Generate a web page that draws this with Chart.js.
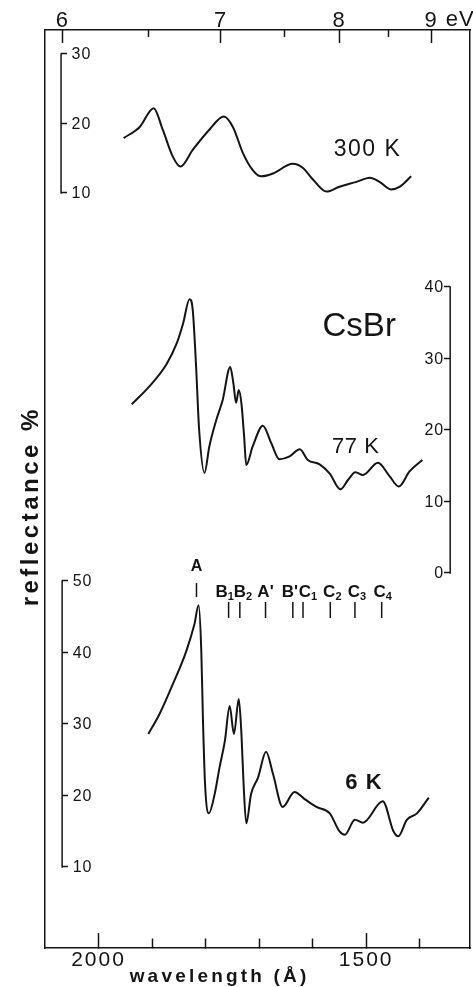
<!DOCTYPE html>
<html>
<head>
<meta charset="utf-8">
<title>CsBr reflectance</title>
<script src="https://cdn.jsdelivr.net/npm/chart.js@4.4.1/dist/chart.umd.min.js"></script>
<style>
  html, body { margin: 0; padding: 0; background: #fff; }
</style>
</head>
<body>
<canvas id="chart" width="473" height="987"></canvas>
<script>
// wavelength in Angstrom, reflectance in %
var lam300 = [1953, 1923, 1897, 1880, 1861, 1847, 1824, 1793, 1766, 1749, 1730, 1712, 1696, 1674, 1637, 1618, 1599, 1574, 1550, 1518, 1493, 1475, 1453, 1437, 1416];
var refl300 = [17.9, 19.5, 22.2, 19.1, 15.2, 13.8, 16.2, 19.1, 21.0, 19.5, 15.7, 13.3, 12.4, 12.8, 14.2, 13.6, 11.9, 10.2, 10.9, 11.6, 12.2, 11.6, 10.5, 10.9, 12.4];

var lam77 = [1938, 1905, 1873, 1854, 1842, 1830, 1824, 1818, 1812, 1802, 1793, 1780, 1768, 1754, 1748, 1743, 1738, 1733, 1728, 1724, 1712, 1693, 1677, 1662, 1643, 1624, 1609, 1587, 1568, 1548, 1534, 1520, 1506, 1478, 1456, 1439, 1419, 1395];
var refl77 = [23.6, 26.1, 29.2, 32.1, 34.9, 38.3, 36.8, 29.3, 20.0, 14.0, 17.7, 21.4, 24.2, 28.8, 26.5, 23.8, 25.6, 23.7, 19.1, 15.1, 17.7, 20.6, 18.1, 15.9, 16.3, 17.3, 15.8, 15.2, 13.9, 11.7, 13.0, 14.1, 13.7, 15.4, 13.5, 12.1, 14.2, 15.8];

var lam6 = [1907, 1886, 1861, 1836, 1821, 1813, 1808, 1805, 1801, 1794, 1783, 1774, 1764, 1755, 1747, 1738, 1733, 1729, 1724, 1715, 1702, 1687, 1674, 1656, 1634, 1615, 1593, 1568, 1550, 1540, 1521, 1506, 1469, 1449, 1440, 1424, 1405, 1383];
var refl6 = [28.6, 31.4, 35.6, 40.2, 43.9, 46.6, 40.2, 30.9, 21.6, 17.5, 20.2, 23.9, 27.6, 32.5, 28.6, 33.5, 28.6, 21.6, 16.1, 20.2, 22.5, 26.1, 23.0, 18.4, 20.5, 19.5, 18.4, 17.5, 15.0, 14.5, 16.6, 16.2, 19.2, 15.0, 14.3, 16.6, 17.5, 19.7];

// axes
var lamTicks = [2000, 1900, 1800, 1700, 1600, 1500, 1400];
var lamLabels = { 2000: '2000', 1500: '1500' };
var eVTicks = [6, 6.5, 7, 7.5, 8, 8.5, 9];
var ticks300 = [10, 20, 30];
var ticks77 = [0, 10, 20, 30, 40];
var ticks6 = [10, 20, 30, 40, 50];

// exciton marks above the 6 K curve
var markNames = ['A', 'B_1', 'B_2', "A'", "B'", 'C_1', 'C_2', 'C_3', 'C_4'];
var markLam = [1817, 1757, 1736, 1688, 1637, 1618, 1567, 1521, 1471];

var ink = '#141414';
var hc = 12398.4; // eV * Angstrom
var font = '"Liberation Sans", Arial, sans-serif';

function fixedTicks(list) {
    return function (scale) {
        scale.ticks = list.map(function (v) { return { value: v }; });
    };
}

function fixedHeight(h) {
    return function (scale) { scale.height = h; };
}

function toPoints(xs, ys) {
    return xs.map(function (x, i) { return { x: x, y: ys[i] }; });
}

function curve(label, xs, ys, axis) {
    return {
        label: label,
        data: toPoints(xs, ys),
        yAxisID: axis,
        borderColor: ink,
        borderWidth: 2,
        pointRadius: 0,
        fill: false,
        cubicInterpolationMode: 'monotone'
    };
}

function panelAxis(posLam, min, max, list, tickLen) {
    return {
        type: 'linear',
        position: { x: posLam },
        min: min,
        max: max,
        afterBuildTicks: fixedTicks(list),
        border: { display: false },
        grid: { drawOnChartArea: false, tickLength: tickLen, tickWidth: 1.5, tickColor: ink },
        ticks: { display: false }
    };
}

function frameAxis(pos) {
    return {
        type: 'linear',
        position: pos,
        min: 0,
        max: 1,
        border: { display: true, color: ink, width: 1.5 },
        grid: { drawOnChartArea: false, drawTicks: false },
        ticks: { display: false }
    };
}

// a bit of spacing like the letraset numbers
var spacing = {
    id: 'spacing',
    beforeDraw: function (chart) { chart.ctx.letterSpacing = '2px'; }
};

// panel axes: line between end ticks, labels inside the frame
var labelSide = { y300: 10.5, y77: -7, y6: 10.5 };

var panelAxes = {
    id: 'panelAxes',
    afterDraw: function (chart) {
        var ctx = chart.ctx, xs = chart.scales.x;
        Object.keys(labelSide).forEach(function (id) {
            var s = chart.scales[id];
            var x = xs.getPixelForValue(s.options.position.x);
            var vals = s.ticks.map(function (t) { return t.value; });
            var off = labelSide[id];
            ctx.save();
            ctx.strokeStyle = ink;
            ctx.fillStyle = ink;
            ctx.lineWidth = 1.5;
            ctx.beginPath();
            ctx.moveTo(x, s.getPixelForValue(Math.max.apply(null, vals)) - 0.75);
            ctx.lineTo(x, s.getPixelForValue(Math.min.apply(null, vals)) + 0.75);
            ctx.stroke();
            ctx.font = '16px ' + font;
            ctx.letterSpacing = '1px';
            ctx.textBaseline = 'middle';
            ctx.textAlign = off > 0 ? 'left' : 'right';
            vals.forEach(function (v) {
                ctx.fillText(String(v), x + off + (off > 0 ? 0 : 1), s.getPixelForValue(v) + 1);
            });
            ctx.restore();
        });
    }
};

function subLabel(ctx, name, cx, cy, size) {
    var parts = name.split('_');
    var main = parts[0], sub = parts[1] || '';
    var subSize = Math.round(size * 0.65);
    ctx.font = 'bold ' + size + 'px ' + font;
    var w1 = ctx.measureText(main).width;
    ctx.font = 'bold ' + subSize + 'px ' + font;
    var w2 = sub ? ctx.measureText(sub).width : 0;
    var x0 = cx - (w1 + w2) / 2;
    ctx.textAlign = 'left';
    ctx.textBaseline = 'middle';
    ctx.font = 'bold ' + size + 'px ' + font;
    ctx.fillText(main, x0, cy);
    if (sub) {
        ctx.font = 'bold ' + subSize + 'px ' + font;
        ctx.fillText(sub, x0 + w1, cy + size * 0.32);
    }
}

var nudge = [0, -4, 3, 0, -3, 5, 2, 2, 1];

var excitonMarks = {
    id: 'excitonMarks',
    afterDraw: function (chart) {
        var ctx = chart.ctx, xs = chart.scales.x;
        var top = chart.scales.y6.getPixelForValue(50);
        ctx.save();
        ctx.letterSpacing = '0px';
        ctx.strokeStyle = ink;
        ctx.fillStyle = ink;
        ctx.lineWidth = 1.5;
        markNames.forEach(function (name, i) {
            var x = xs.getPixelForValue(markLam[i]);
            var first = i === 0;
            ctx.beginPath();
            ctx.moveTo(x, first ? top + 2 : top + 21);
            ctx.lineTo(x, first ? top + 16 : top + 37);
            ctx.stroke();
            subLabel(ctx, name, x + nudge[i], first ? top - 14 : top + 11, first ? 16 : 17);
        });
        ctx.restore();
    }
};

var textNotes = {
    id: 'textNotes',
    afterDraw: function (chart) {
        var ctx = chart.ctx, s = chart.scales, a = chart.chartArea;
        function put(text, x, y, f, sp, rot) {
            ctx.save();
            ctx.fillStyle = ink;
            ctx.textAlign = 'center';
            ctx.textBaseline = 'middle';
            ctx.font = f;
            ctx.letterSpacing = sp + 'px';
            ctx.translate(x, y);
            if (rot) ctx.rotate(rot);
            ctx.fillText(text, sp / 2, 0);
            ctx.restore();
        }
        put('300 K', s.x.getPixelForValue(1499), s.y300.getPixelForValue(16.2), '23px ' + font, 1.5);
        put('CsBr', s.x.getPixelForValue(1513), s.y77.getPixelForValue(34.4), '33px ' + font, 0);
        put('77 K', s.x.getPixelForValue(1520), s.y77.getPixelForValue(17.6), '22px ' + font, 0.5);
        put('6 K', s.x.getPixelForValue(1505), s.y6.getPixelForValue(21.7), 'bold 22px ' + font, 1);
        put('eV', s.xTop.getPixelForValue(hc / 9) + 28, a.top - 10, '22px ' + font, 1);
        put('wavelength (Å)', a.left + 173, a.bottom + 29, 'bold 19px ' + font, 3.2);
        put('reflectance %', a.left - 13.5, (a.top + a.bottom) / 2 + 19, 'bold 24px ' + font, 3.5, -Math.PI / 2);
    }
};

new Chart(document.getElementById('chart'), {
    type: 'line',
    data: {
        datasets: [
            curve('300 K', lam300, refl300, 'y300'),
            curve('77 K', lam77, refl77, 'y77'),
            curve('6 K', lam6, refl6, 'y6')
        ]
    },
    options: {
        responsive: false,
        animation: false,
        events: [],
        layout: { padding: { top: 0, left: 45, right: 3, bottom: 0 } },
        plugins: { legend: { display: false }, tooltip: { enabled: false } },
        scales: {
            x: {
                type: 'linear',
                position: 'bottom',
                reverse: true,
                min: 1306,
                max: 2100,
                afterBuildTicks: fixedTicks(lamTicks),
                afterFit: fixedHeight(39),
                border: { display: true, color: ink, width: 1.5 },
                grid: {
                    drawOnChartArea: false,
                    tickLength: -15,
                    tickWidth: 1.5,
                    tickColor: ink,
                    tickBorderDash: function (c) { return lamLabels[c.tick.value] ? [] : [10, 40]; }
                },
                ticks: {
                    color: ink,
                    font: { family: font, size: 21, lineHeight: 1 },
                    padding: 17,
                    autoSkip: false,
                    maxRotation: 0,
                    callback: function (v) { return lamLabels[v] || ''; }
                }
            },
            xTop: {
                type: 'linear',
                position: 'top',
                reverse: true,
                min: 1306,
                max: 2100,
                afterBuildTicks: fixedTicks(eVTicks.map(function (e) { return hc / e; })),
                afterFit: fixedHeight(30),
                border: { display: true, color: ink, width: 1.5 },
                grid: {
                    drawOnChartArea: false,
                    tickLength: -13,
                    tickWidth: 1.5,
                    tickColor: ink,
                    tickBorderDash: function (c) { return Number.isInteger(eVTicks[c.index]) ? [] : [7, 40]; },
                    tickBorderDashOffset: function (c) { return Number.isInteger(eVTicks[c.index]) ? 0 : 41; }
                },
                ticks: {
                    color: ink,
                    font: { family: font, size: 22, lineHeight: 1 },
                    padding: 11,
                    autoSkip: false,
                    maxRotation: 0,
                    callback: function (v, i) { return Number.isInteger(eVTicks[i]) ? String(eVTicks[i]) : ''; }
                }
            },
            yL: frameAxis('left'),
            yR: frameAxis('right'),
            y300: panelAxis(2070, -98.64, 33.45, ticks300, -6),
            y77: panelAxis(1343, -52.45, 75.94, ticks77, 6),
            y6: panelAxis(2068, -1.33, 127.06, ticks6, -6)
        }
    },
    plugins: [spacing, panelAxes, excitonMarks, textNotes]
});
</script>
</body>
</html>
